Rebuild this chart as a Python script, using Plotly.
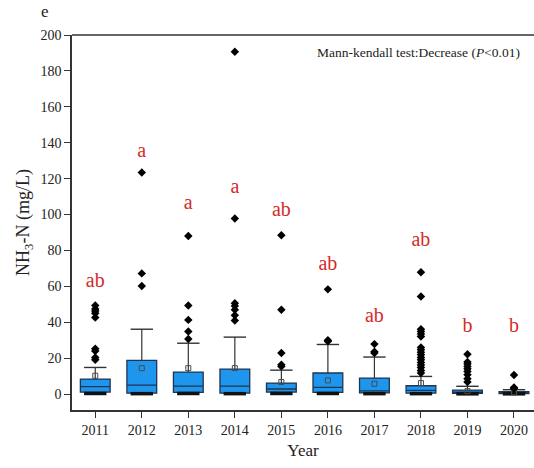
import plotly.graph_objects as go

# Annual NH3-N box statistics (mg/L)
years = [2011, 2012, 2013, 2014, 2015, 2016, 2017, 2018, 2019, 2020]
q1 = [1.1, 0.5, 0.9, 0.5, 1.1, 0.9, 0.6, 0.5, 0.4, 0.3]
median = [4.1, 5.0, 4.4, 4.4, 2.8, 3.7, 1.7, 2.0, 1.1, 0.7]
q3 = [8.3, 18.7, 12.2, 13.9, 6.1, 11.7, 8.9, 4.6, 2.2, 1.3]
lower = [0.3, 0.2, 0.3, 0.2, 0.3, 0.3, 0.2, 0.2, 0.1, 0.1]
upper = [14.8, 36.1, 28.3, 31.7, 13.3, 27.6, 20.6, 9.8, 4.3, 2.4]
means = [10.2, 14.4, 14.4, 14.4, 6.7, 7.6, 5.7, 6.1, 1.6, 0.9]

outliers = {
    2011: [49.3, 47.4, 46.3, 45.0, 42.6, 25.2, 23.9, 20.4, 19.1],
    2012: [123.4, 67.2, 60.2],
    2013: [88.0, 49.3, 41.3, 34.8, 30.7],
    2014: [190.7, 97.8, 50.6, 49.1, 46.9, 43.9, 40.9],
    2015: [88.5, 47.0, 22.8, 16.3, 15.4],
    2016: [58.3, 30.0, 29.4],
    2017: [27.8, 23.5, 22.8],
    2018: [67.8, 54.3, 36.1, 34.8, 33.5, 32.0, 25.9, 24.6, 23.3, 21.9,
           20.4, 19.1, 17.6, 16.1, 14.8, 13.1, 11.7],
    2019: [22.2, 17.8, 16.7, 15.4, 14.1, 12.6, 10.7, 8.5, 6.7],
    2020: [10.6, 3.7, 3.1],
}

# Significance group letters and their heights
letters = ["ab", "a", "a", "a", "ab", "ab", "ab", "ab", "b", "b"]
letter_y = [62.3, 135.0, 106.0, 114.5, 101.8, 71.7, 43.0, 85.0, 37.4, 37.4]

SERIF = "Liberation Serif, Times New Roman, serif"
BOX_FILL = "#1E96EE"
BOX_LINE = "#1F3550"
INK = "#222222"

fig = go.Figure()

fig.add_trace(go.Box(
    x=years, q1=q1, median=median, q3=q3,
    lowerfence=q1, upperfence=q3,
    width=0.64, fillcolor=BOX_FILL,
    line=dict(color=BOX_LINE, width=1.3),
    boxpoints=False, showlegend=False, hoverinfo="skip",
))

# Upper whiskers
wx, wy = [], []
for yr, top, up in zip(years, q3, upper):
    wx += [yr, yr, None]
    wy += [top, up, None]
fig.add_trace(go.Scatter(x=wx, y=wy, mode="lines",
                         line=dict(color="#333333", width=1.2),
                         showlegend=False, hoverinfo="skip"))

# Whisker caps
fig.add_trace(go.Scatter(x=years, y=upper, mode="markers",
                         marker=dict(symbol="line-ew", size=16, color="#333333",
                                     line=dict(color="#333333", width=1.4)),
                         showlegend=False, hoverinfo="skip"))
fig.add_trace(go.Scatter(x=years, y=lower, mode="markers",
                         marker=dict(symbol="line-ew", size=16, color="#111111",
                                     line=dict(color="#111111", width=3.5)),
                         showlegend=False, hoverinfo="skip"))

# Means
fig.add_trace(go.Scatter(x=years, y=means, mode="markers",
                         marker=dict(symbol="square-open", size=5, color="#4A4A4A",
                                     line=dict(color="#4A4A4A", width=1)),
                         showlegend=False, hoverinfo="skip"))

# Outliers
ox, oy = [], []
for yr in years:
    for v in outliers[yr]:
        ox.append(yr)
        oy.append(v)
fig.add_trace(go.Scatter(x=ox, y=oy, mode="markers",
                         marker=dict(symbol="diamond", size=6.5, color="black"),
                         showlegend=False, hoverinfo="skip"))

# Group letters
fig.add_trace(go.Scatter(x=years, y=letter_y, mode="text", text=letters,
                         textfont=dict(family=SERIF, size=20, color="#D42A2A"),
                         showlegend=False, hoverinfo="skip"))

fig.add_annotation(x=1, y=1, xref="paper", yref="paper",
                   xanchor="right", yanchor="top", xshift=-12, yshift=-8,
                   text="Mann-kendall test:Decrease (<i>P</i><0.01)",
                   showarrow=False,
                   font=dict(family=SERIF, size=13.5, color=INK))
fig.add_annotation(x=0, y=1, xref="paper", yref="paper",
                   xanchor="center", yanchor="bottom", xshift=-27, yshift=12,
                   text="e", showarrow=False,
                   font=dict(family=SERIF, size=17, color=INK))

fig.update_layout(
    width=534, height=468,
    margin=dict(l=72, r=0, t=35, b=58),
    paper_bgcolor="white", plot_bgcolor="white",
    font=dict(family=SERIF, color=INK),
)
fig.update_xaxes(
    range=[2010.5, 2020.43], tickmode="array", tickvals=years,
    ticktext=[str(y) for y in years],
    ticks="outside", ticklen=6, tickwidth=1.3, tickcolor="#333333",
    showline=True, linecolor="#333333", linewidth=1.5, mirror=False,
    showgrid=False, zeroline=False,
    tickfont=dict(family=SERIF, size=14, color=INK),
    title=dict(text="Year", font=dict(family=SERIF, size=17, color=INK),
               standoff=8),
)
fig.update_yaxes(
    range=[-8.9, 200], tickmode="linear", tick0=0, dtick=20,
    ticks="outside", ticklen=6, tickwidth=1.3, tickcolor="#333333",
    showline=True, linecolor="#333333", linewidth=1.5,
    showgrid=False, zeroline=False,
    tickfont=dict(family=SERIF, size=14, color=INK),
    title=dict(text="NH<sub>3</sub>-N (mg/L)",
               font=dict(family=SERIF, size=18, color=INK), standoff=6),
)
# Top border line
fig.add_shape(type="line", xref="paper", yref="paper", x0=0, x1=1, y0=1, y1=1,
              line=dict(color="#333333", width=1.5))

fig.write_html("out.html")
